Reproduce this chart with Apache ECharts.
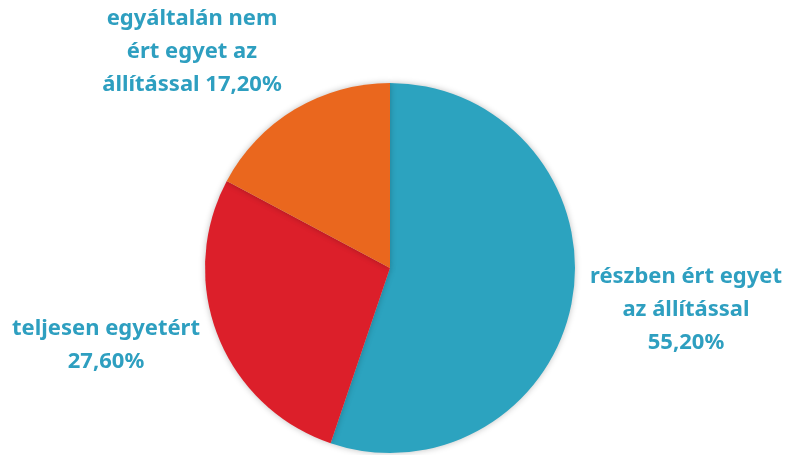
<!DOCTYPE html>
<html>
<head>
<meta charset="utf-8">
<script src="https://cdn.jsdelivr.net/npm/echarts@6/dist/echarts.min.js"></script>
<style>
    html, body { margin: 0; padding: 0; background: #fff; }
    #chart { width: 785px; height: 455px; }
</style>
</head>
<body>
<div id="chart"></div>
<script>
    var categories = ['részben ért egyet\naz állítással', 'teljesen egyetért', 'egyáltalán nem\nért egyet az\nállítással']
    var values = [55.2, 27.6, 17.2]
    var valueLabels = ['55,20%', '27,60%', '17,20%']
    var colors = ['#2ca3bf', '#dc1f2a', '#ea671e']

    // where each label sits (x, y of the text block centre)
    var labelPos = [
        { x: 686, y: 310 },
        { x: 106, y: 345 },
        { x: 192, y: 52 }
    ]

    var chart = echarts.init(document.getElementById('chart'))

    var seriesData = categories.map(function (name, i) {
        var text = i === 2 ? name + ' ' + valueLabels[i] : name + '\n' + valueLabels[i]
        return {
            name: name,
            value: values[i],
            itemStyle: { color: colors[i] },
            label: { formatter: text }
        }
    })

    chart.setOption({
        animation: false,
        series: [{
            type: 'pie',
            center: [390, 268],
            radius: 185,
            startAngle: 90,
            clockwise: true,
            data: seriesData,
            itemStyle: {
                shadowColor: 'rgba(0,0,0,0.25)',
                shadowBlur: 6
            },
            label: {
                show: true,
                position: 'outside',
                overflow: 'none',
                color: '#2e9fc0',
                fontFamily: '"Noto Sans", sans-serif',
                fontWeight: 'bold',
                fontSize: 22,
                lineHeight: 33,
                align: 'center'
            },
            labelLine: { show: false },
            labelLayout: function (params) {
                var p = labelPos[params.dataIndex]
                return { x: p.x, y: p.y, align: 'center', verticalAlign: 'middle' }
            }
        }]
    })
</script>
</body>
</html>
